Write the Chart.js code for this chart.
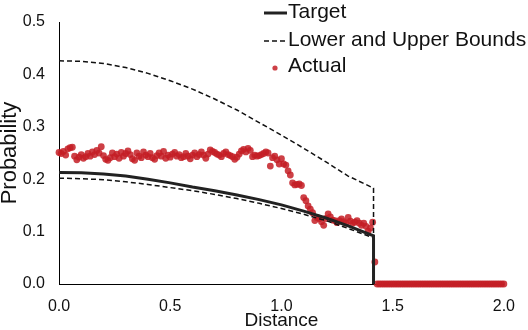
<!DOCTYPE html>
<html>
<head>
<meta charset="utf-8">
<script src="https://cdn.jsdelivr.net/npm/chart.js@4.4.1/dist/chart.umd.min.js"></script>
<style>
  html, body { margin: 0; padding: 0; background: #fff; }
</style>
</head>
<body>
<canvas id="chart" width="528" height="330"></canvas>
<script>
// curves: Target and the two bounds, sampled along distance
const boundDistance = [0, 0.1, 0.2, 0.3, 0.4, 0.5, 0.6, 0.7, 0.8, 0.9, 1.0, 1.1, 1.2, 1.3, 1.414, 1.414];
const targetProb = [0.213, 0.2125, 0.210, 0.206, 0.200, 0.193, 0.185, 0.178, 0.170, 0.161, 0.151, 0.139, 0.126, 0.111, 0.092, 0];
const lowerProb = [0.202, 0.201, 0.199, 0.195, 0.190, 0.184, 0.178, 0.171, 0.163, 0.154, 0.144, 0.133, 0.121, 0.106, 0.088, 0];
const upperProb = [0.426, 0.425, 0.421, 0.413, 0.402, 0.388, 0.372, 0.353, 0.332, 0.308, 0.284, 0.259, 0.233, 0.206, 0.183, 0];

// measured points, one every 0.01 from 0.00 to 2.00
const actualProb = [
  0.251, 0.249, 0.253, 0.246, 0.258, 0.260, 0.261, 0.244, 0.237, 0.242,
  0.247, 0.240, 0.243, 0.249, 0.244, 0.252, 0.247, 0.255, 0.250, 0.262,
  0.245, 0.238, 0.236, 0.241, 0.250, 0.243, 0.248, 0.240, 0.251, 0.244,
  0.249, 0.254, 0.247, 0.239, 0.236, 0.250, 0.244, 0.241, 0.252, 0.246,
  0.243, 0.249, 0.241, 0.238, 0.245, 0.250, 0.244, 0.253, 0.240, 0.246,
  0.242, 0.248, 0.251, 0.244, 0.247, 0.241, 0.243, 0.249, 0.244, 0.239,
  0.246, 0.250, 0.243, 0.247, 0.252, 0.246, 0.240, 0.248, 0.256, 0.253,
  0.251, 0.248, 0.246, 0.243, 0.249, 0.252, 0.247, 0.245, 0.243, 0.238,
  0.242, 0.248, 0.254, 0.257, 0.252, 0.259, 0.255, 0.243, 0.246, 0.244,
  0.245, 0.247, 0.249, 0.252, 0.250, 0.225, 0.241, 0.244, 0.237, 0.229,
  0.239, 0.229, 0.227, 0.216, 0.208, 0.193, 0.189, 0.190, 0.191, 0.188,
  0.165, 0.159, 0.149, 0.143, 0.136, 0.121, 0.127, 0.125, 0.119, 0.112,
  0.125, 0.134, 0.128, 0.122, 0.121, 0.117, 0.121, 0.124, 0.119, 0.116,
  0.127, 0.120, 0.116, 0.118, 0.121, 0.116, 0.112, 0.116, 0.110, 0.101,
  0.107, 0.118, 0.042, 0, 0, 0, 0, 0, 0, 0,
  0, 0, 0, 0, 0, 0, 0, 0, 0, 0,
  0, 0, 0, 0, 0, 0, 0, 0, 0, 0,
  0, 0, 0, 0, 0, 0, 0, 0, 0, 0,
  0, 0, 0, 0, 0, 0, 0, 0, 0, 0,
  0, 0, 0, 0, 0, 0, 0, 0, 0, 0,
  0
];
const actualDistance = actualProb.map((_, i) => i / 100);

const FONT = "'Liberation Sans', Arial, sans-serif";
const INK = "#111";
const RED = "rgba(196, 30, 38, 0.85)";

const toPoints = (xs, ys) => xs.map((x, i) => ({ x: x, y: ys[i] }));

// legend drawn inside the plot, top right, lines glued to the text
const cornerLegend = {
  id: "cornerLegend",
  afterDraw(chart) {
    const ctx = chart.ctx;
    const rows = [12, 40, 66];
    let row = 0;
    ctx.save();
    ctx.font = "21px " + FONT;
    ctx.textBaseline = "middle";
    chart.data.datasets.forEach((ds) => {
      if (ds.skipLegend) return;
      const y = rows[row++];
      if (ds.showLine === false) {
        ctx.fillStyle = ds.backgroundColor;
        ctx.beginPath();
        ctx.arc(275, y + 2, 2.6, 0, Math.PI * 2);
        ctx.fill();
      } else {
        ctx.strokeStyle = ds.borderColor;
        ctx.lineWidth = ds.borderWidth;
        ctx.setLineDash(ds.borderDash || []);
        ctx.beginPath();
        ctx.moveTo(264, y + 1);
        ctx.lineTo(287, y + 1);
        ctx.stroke();
        ctx.setLineDash([]);
      }
      ctx.fillStyle = INK;
      ctx.fillText(ds.label, 288, y);
    });
    ctx.restore();
  }
};

new Chart(document.getElementById("chart"), {
  type: "scatter",
  data: {
    datasets: [
      {
        label: "Target",
        data: toPoints(boundDistance, targetProb),
        showLine: true,
        borderColor: "#222",
        borderWidth: 3,
        pointRadius: 0,
        fill: false
      },
      {
        label: "Lower and Upper Bounds",
        data: toPoints(boundDistance, lowerProb),
        showLine: true,
        borderColor: "#111",
        borderWidth: 1.5,
        borderDash: [5, 3],
        pointRadius: 0,
        fill: false
      },
      {
        label: "Upper Bound",
        skipLegend: true,
        data: toPoints(boundDistance, upperProb),
        showLine: true,
        borderColor: "#111",
        borderWidth: 1.5,
        borderDash: [5, 3],
        pointRadius: 0,
        fill: false
      },
      {
        label: "Actual",
        data: toPoints(actualDistance, actualProb),
        showLine: false,
        backgroundColor: RED,
        borderWidth: 0,
        pointRadius: 3.4,
        clip: false
      }
    ]
  },
  options: {
    responsive: false,
    animation: false,
    layout: { padding: { top: 8, right: 16, left: 0, bottom: 0 } },
    plugins: {
      legend: { display: false },
      tooltip: { enabled: false }
    },
    scales: {
      x: {
        type: "linear",
        min: 0,
        max: 2,
        afterFit: (s) => { s.height = 46; },
        grid: { display: false, drawTicks: false },
        border: { display: true, color: "#000", width: 1 },
        ticks: {
          stepSize: 0.5,
          padding: 13,
          color: INK,
          font: { family: FONT, size: 16 },
          callback: (v) => v.toFixed(1)
        },
        title: {
          display: true,
          text: "Distance",
          color: INK,
          padding: 0,
          font: { family: FONT, size: 19, lineHeight: 0.95 }
        }
      },
      y: {
        min: 0,
        max: 0.5,
        afterFit: (s) => { s.width = 59; },
        grid: { display: false, drawTicks: false },
        border: { display: true, color: "#000", width: 1 },
        ticks: {
          stepSize: 0.1,
          padding: 14,
          color: INK,
          font: { family: FONT, size: 16, lineHeight: 1 },
          callback: (v) => v.toFixed(1)
        },
        title: {
          display: true,
          text: "Probability",
          color: INK,
          padding: 0,
          font: { family: FONT, size: 22, lineHeight: 0.9 }
        }
      }
    }
  },
  plugins: [cornerLegend]
});
</script>
</body>
</html>
